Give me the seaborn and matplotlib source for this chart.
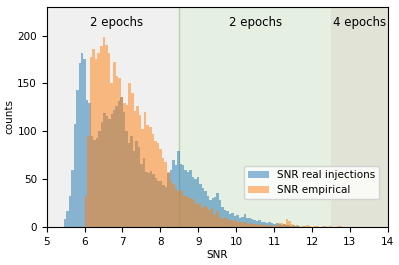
import matplotlib
matplotlib.use("Agg")
import matplotlib.pyplot as plt
import numpy as np
import pandas as pd
import seaborn as sns

# histogram counts
# real injections: 98 bins, width 0.065, starting at SNR 5.45
real_counts = [8, 17, 33, 60, 108, 143, 171, 182, 176, 133,
               130, 95, 91, 93, 100, 110, 119, 116, 113, 118,
               122, 126, 132, 136, 120, 100, 88, 95, 79, 90,
               84, 66, 72, 58, 57, 59, 55, 51, 48, 48,
               44, 42, 56, 60, 70, 65, 79, 66, 65, 60,
               58, 60, 52, 50, 52, 45, 41, 38, 33, 28,
               30, 31, 36, 28, 21, 18, 17, 14, 15, 12,
               13, 10, 11, 14, 10, 9, 8, 7, 6, 7,
               5, 5, 4, 5, 4, 3, 4, 3, 2, 3,
               2, 2, 1, 2, 1, 1, 0, 1]
real_start, real_width = 5.45, 0.065

# empirical: 100 bins, width 0.068, starting at SNR 6.0
emp_counts = [32, 95, 178, 186, 176, 182, 189, 199, 190, 182,
              150, 172, 158, 156, 136, 130, 128, 151, 140, 121,
              126, 117, 102, 120, 107, 105, 97, 90, 88, 82,
              72, 68, 58, 48, 45, 40, 38, 39, 32, 33,
              30, 30, 28, 24, 25, 20, 22, 21, 18, 20,
              13, 17, 11, 8, 11, 8, 7, 6, 7, 5,
              5, 4, 5, 3, 4, 3, 3, 2, 3, 2,
              2, 1, 2, 1, 2, 4, 4, 3, 8, 6,
              3, 1, 2, 0, 1, 1, 2, 1, 0, 1,
              1, 0, 1, 1, 0, 1, 0, 0, 1, 1]
emp_start, emp_width = 6.0, 0.068

# epoch regions
region_edges = [5, 8.5, 12.5, 14]
region_labels = ['2 epochs', '2 epochs', '4 epochs']
region_colors = ['#f0f0f0', '#e5efe2', '#e2e3d7']

fig = plt.figure(figsize=(3.99, 2.65), dpi=100)
ax = fig.add_axes([0.117, 0.143, 0.855, 0.831])

for i in range(3):
    ax.axvspan(region_edges[i], region_edges[i + 1], color=region_colors[i], lw=0, zorder=0)
ax.axvline(8.5, color='#b5d3b0', lw=1, zorder=0.5)

real_edges = list(real_start + real_width * np.arange(len(real_counts) + 1))
emp_edges = list(emp_start + emp_width * np.arange(len(emp_counts) + 1))

df_real = pd.DataFrame({'snr': [(a + b) / 2 for a, b in zip(real_edges[:-1], real_edges[1:])],
                        'n': real_counts})
df_emp = pd.DataFrame({'snr': [(a + b) / 2 for a, b in zip(emp_edges[:-1], emp_edges[1:])],
                       'n': emp_counts})

sns.histplot(data=df_real, x='snr', weights='n', bins=real_edges,
             color='C0', alpha=0.5, linewidth=0, label='SNR real injections', ax=ax)
sns.histplot(data=df_emp, x='snr', weights='n', bins=emp_edges,
             color='C1', alpha=0.5, linewidth=0, label='SNR empirical', ax=ax)

text_x = [6.85, 10.5, 13.25]
for x, lab in zip(text_x, region_labels):
    ax.text(x, 214, lab, ha='center', va='center', fontsize=8.5)

ax.set_xlim(5, 14)
ax.set_ylim(0, 230)
ax.set_xticks(range(5, 15))
ax.set_yticks([0, 50, 100, 150, 200])
ax.tick_params(labelsize=7.5)
ax.set_xlabel('SNR', fontsize=7.5, labelpad=2)
ax.set_ylabel('counts', fontsize=7.5, labelpad=2)

ax.legend(loc='lower right', bbox_to_anchor=(0.975, 0.126), borderaxespad=0,
          fontsize=7.5, framealpha=0.8)

fig.savefig('out.png', dpi=100)
